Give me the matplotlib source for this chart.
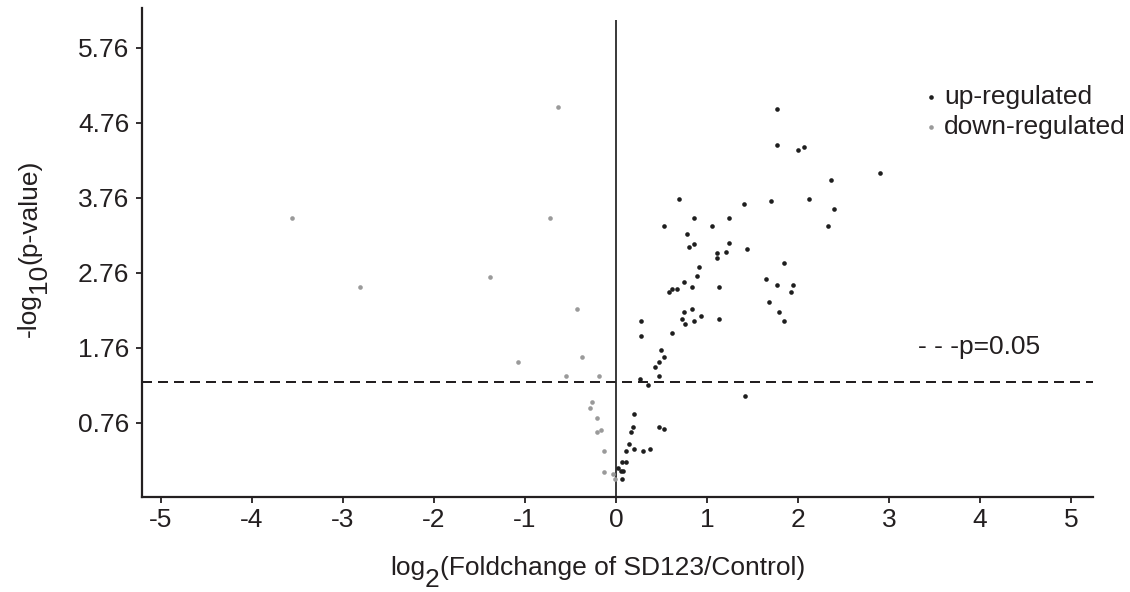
import matplotlib
matplotlib.use("Agg")
import matplotlib.pyplot as plt

plt.rcParams['font.family'] = ['Liberation Sans', 'DejaVu Sans']

# ---- data ----
up_x = [1.766, 1.766, 2.0, 2.069, 2.898, 2.366, 2.121, 2.392, 2.33, 1.703, 1.41,
        0.689, 0.86, 1.238, 0.524, 1.058, 0.777, 0.805, 0.86, 1.238, 1.11, 1.11,
        1.212, 1.436, 0.909, 1.843, 0.887, 0.751, 0.832, 1.135, 1.652, 1.766,
        1.948, 1.926, 1.678, 1.791, 1.843, 0.579, 0.619, 0.674, 0.725, 0.755,
        0.751, 0.832, 0.857, 0.937, 1.135, 0.278, 0.278, 0.615, 0.498, 0.524,
        0.476, 0.425, 0.473, 0.26, 0.352, 1.414,
        0.198, 0.19, 0.165, 0.473, 0.524, 0.14, 0.113, 0.20, 0.30, 0.374,
        0.063, 0.113, 0.025, 0.052, 0.074, 0.063]
up_y = [4.94, 4.46, 4.39, 4.43, 4.09, 3.99, 3.74, 3.61, 3.38, 3.71, 3.68,
        3.74, 3.49, 3.49, 3.38, 3.38, 3.27, 3.10, 3.14, 3.15, 3.02, 2.95,
        3.04, 3.07, 2.83, 2.89, 2.71, 2.63, 2.57, 2.57, 2.67, 2.60,
        2.60, 2.50, 2.37, 2.23, 2.11, 2.50, 2.54, 2.54, 2.14, 2.08,
        2.23, 2.27, 2.11, 2.18, 2.14, 2.11, 1.92, 1.95, 1.73, 1.63,
        1.57, 1.50, 1.38, 1.34, 1.26, 1.11,
        0.88, 0.70, 0.63, 0.70, 0.67, 0.48, 0.38, 0.41, 0.38, 0.41,
        0.23, 0.23, 0.15, 0.12, 0.11, 0.01]

down_x = [-3.557, -2.81, -1.381, -0.634, -0.729, -0.429, -1.08, -0.377, -0.553,
          -0.187, -0.26, -0.289, -0.209, -0.162, -0.209, -0.135, -0.135, -0.03,
          -0.008]
down_y = [3.49, 2.57, 2.70, 4.97, 3.49, 2.27, 1.57, 1.63, 1.38,
          1.38, 1.04, 0.95, 0.82, 0.667, 0.63, 0.38, 0.10, 0.08,
          0.01]

x_ticks = [-5, -4, -3, -2, -1, 0, 1, 2, 3, 4, 5]
y_ticks = [0.76, 1.76, 2.76, 3.76, 4.76, 5.76]
y_ticklabels = ['0.76', '1.76', '2.76', '3.76', '4.76', '5.76']
p_threshold = 1.301  # -log10(0.05)
labels = ['up-regulated', 'down-regulated']
xlabel_parts = ['log', '2', '(Foldchange of SD123/Control)']
ylabel_parts = ['-log', '10', '(p-value)']

# ---- figure ----
W, H = 1130, 592
FS = 19
fig = plt.figure(figsize=(W / 100, H / 100), dpi=100)
ax = fig.add_axes([141.7 / W, 1 - 497.3 / H, (1093.3 - 141.7) / W, (497.3 - 8) / H])

dark = '#231f20'
sc_up = ax.scatter(up_x, up_y, s=11, color='#1e1e1e', linewidths=0, zorder=3)
sc_dn = ax.scatter(down_x, down_y, s=11, color='#9a9a9a', linewidths=0, zorder=3)

ax.set_xlim(-5.212, 5.245)
ax.set_ylim(-0.235, 6.29)

ax.axhline(p_threshold, color=dark, lw=1.44, linestyle=(0, (5, 3)), zorder=2)
ax.vlines(0, -0.235, 6.13, color='#2a2a2a', lw=1.3, zorder=2)

for side in ['top', 'right']:
    ax.spines[side].set_visible(False)
for side in ['left', 'bottom']:
    ax.spines[side].set_linewidth(1.6)
    ax.spines[side].set_color(dark)

ax.set_xticks(x_ticks)
ax.set_xticklabels([str(v) for v in x_ticks])
ax.set_yticks(y_ticks)
ax.set_yticklabels(y_ticklabels)
ax.tick_params(axis='both', direction='out', length=4, width=1.3, color=dark,
               labelsize=FS, labelcolor=dark)
ax.tick_params(axis='x', pad=4)
ax.tick_params(axis='y', pad=5)

renderer = fig.canvas.get_renderer()


def text_width(s):
    t = fig.text(0, 0, s, fontsize=FS)
    w = t.get_window_extent(renderer).width
    t.remove()
    return w


# x label: subscript drawn at full size, dropped below the baseline (as in reference)
x0, base = 390.0, 575.0
shifts = [0, 12, 0]
for part, sh in zip(xlabel_parts, shifts):
    fig.text(x0 / W, 1 - (base + sh) / H, part, fontsize=FS, color=dark,
             ha='left', va='baseline')
    x0 += text_width(part)

# y label (rotated)
y0, basex = 337.0, 36.0
shifts = [0, 10, 0]
for part, sh in zip(ylabel_parts, shifts):
    fig.text((basex + sh) / W, 1 - y0 / H, part, fontsize=FS, color=dark,
             ha='left', va='baseline', rotation=90, rotation_mode='anchor')
    y0 -= text_width(part)

leg = ax.legend([sc_up, sc_dn], labels, loc='upper left',
                bbox_to_anchor=(924 / W, 1 - 85 / H), bbox_transform=fig.transFigure,
                frameon=False, handlelength=0.5, handletextpad=0.25, borderpad=0,
                borderaxespad=0, labelspacing=0.23, fontsize=FS, markerscale=1.0,
                scatterpoints=1)
for t in leg.get_texts():
    t.set_color(dark)

fig.text(918 / W, 1 - 347 / H, '- - -p=0.05', ha='left', va='center',
         fontsize=FS, color=dark)

fig.savefig('out.png', dpi=100)
